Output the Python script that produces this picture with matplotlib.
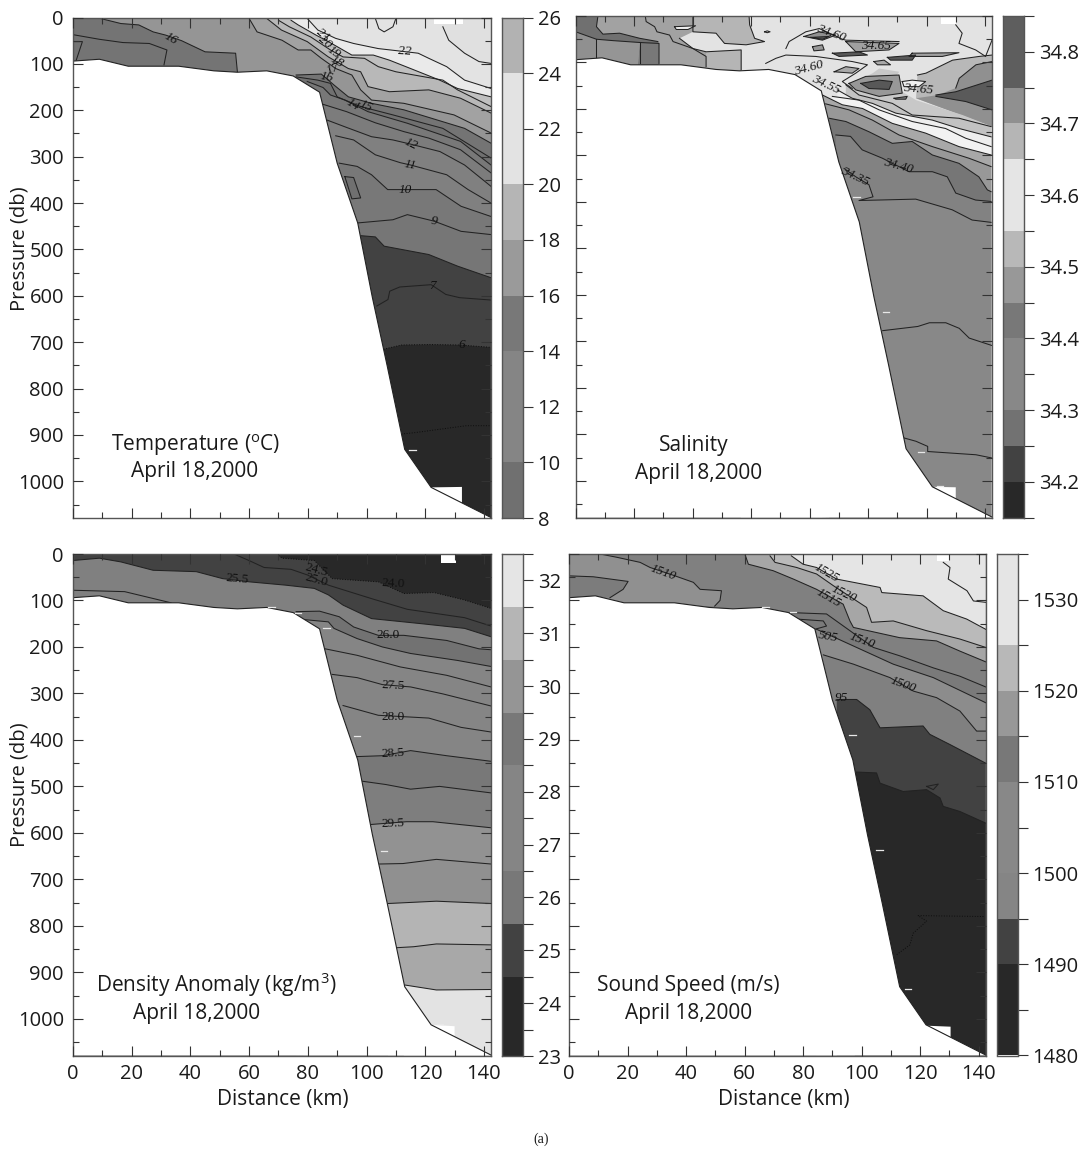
import numpy as np
import matplotlib
matplotlib.use('Agg')
import matplotlib.pyplot as plt

plt.rcParams['font.family'] = ['Open Sans', 'DejaVu Sans']
plt.rcParams['mathtext.fontset'] = 'custom'
plt.rcParams['mathtext.rm'] = 'Open Sans'
plt.rcParams['mathtext.default'] = 'rm'

W, H = 1084, 1150
XMAX = 142.4
PMAX = 1079

# bottom profile, (distance km, pressure db)
seabed = [(0, 94), (9, 90), (18.8, 105), (36, 105), (48, 115), (56, 118), (66, 115), (75, 126), (84, 161),
          (90, 314), (97, 443), (102, 604), (107, 750), (113, 931), (122, 1013), (142.4, 1078)]

# temperature contours
t_a = [(126, 20), (128, 49), (133.4, 77), (138.3, 95), (142.4, 99)]
t_22 = [(79.8, 2), (83.4, 27), (89.5, 45), (95.6, 56), (104, 67), (110.9, 72), (117.6, 77), (121.2, 88), (127.3, 106), (133.4, 135), (142.4, 153)]
t_21 = [(74.3, 6), (76.7, 16), (82.8, 38), (87, 52), (95, 81), (102.3, 81), (107.8, 92), (115, 110), (124.9, 135), (131, 153), (142.4, 171)]
t_20 = [(70, 6), (73.7, 20), (81, 42), (87.7, 70), (92, 85), (99.3, 88), (104, 106), (110, 117), (126, 135), (131, 156), (142.4, 192)]
t_19 = [(66, 2), (71, 27), (79.8, 52), (87, 85), (93.8, 110), (98, 117), (100.5, 149), (107.8, 160), (121.2, 156), (132, 174), (142.4, 206)]
t_18 = [(60, 2), (62.7, 31), (71.2, 49), (76.7, 70), (81, 70), (84.6, 88), (89.5, 110), (95, 124), (98, 156), (101.7, 178), (112.7, 185), (129.8, 210), (142.4, 249)]
t_17 = [(76, 124), (84.6, 122), (89, 146), (93.8, 171), (101.7, 185), (112.7, 199), (133.4, 239), (142.4, 271)]
t_16 = [(76, 128), (83.4, 135), (87.7, 142), (90, 171), (98, 192), (109, 210), (126, 239), (142.4, 303)]
t_15 = [(79.8, 138), (85.2, 151), (87.7, 167), (92.6, 178), (100.5, 203), (113.9, 228), (132, 267), (142.4, 318)]
t_13 = [(84.6, 186), (93.2, 203), (103, 227), (112.7, 246), (121.2, 260), (132, 285), (142.4, 335)]
t_12 = [(86.5, 221), (93.2, 237), (101.7, 257), (109, 264), (115, 273), (125, 289), (133.4, 318), (142.4, 364)]
t_11 = [(89.5, 255), (95.6, 264), (103, 296), (111.5, 313), (115, 318), (127.3, 339), (134.6, 371), (142.4, 400)]
t_10 = [(90.7, 314), (96.8, 321), (101.7, 339), (107.2, 371), (113.3, 371), (123.7, 371), (132.2, 407), (142.4, 429)]
t_10b = [(92.6, 343), (95.6, 345), (98, 389), (95, 391)]
t_9 = [(96.8, 443), (109, 436), (113.9, 425), (123, 439), (132.2, 461), (142.4, 468)]
t_8 = [(97.4, 470), (103, 473), (106, 493), (121.2, 511), (131, 536), (142.4, 561)]
t_7 = [(103.5, 622), (107.3, 608), (107.9, 590), (111.3, 581), (122, 576), (127, 597), (131.7, 604), (142.2, 609)]
t_6 = [(105.8, 715), (112, 706), (121.5, 705), (131.7, 706), (142.2, 711)]
t_5 = [(111.9, 898), (116.4, 895), (134, 880), (142.2, 880)]
t_left = [(8, 0), (16.3, 13), (22.4, 16), (27.3, 31), (31.6, 38), (37, 50), (45, 74), (55.4, 77), (56, 117)]
t_left2 = [(0, 37), (9, 47), (17, 54), (26, 56), (32, 70), (31, 102)]
t_left3 = [(0, 52), (3.2, 52), (1.1, 92)]
t_loop = [(103, 2), (104.2, 24), (106, 31), (109, 20), (110, 2)]

# salinity contours
s_40 = [(89, 256), (94, 259), (98, 288), (104.9, 306), (114, 335), (122, 335), (127.1, 346), (130, 381), (136.8, 396), (142.1, 399)]
s_35 = [(91.8, 328), (95.8, 346), (100.3, 363), (101.7, 389), (96.9, 397), (116.3, 394), (128.8, 417), (135.6, 439), (142.1, 444)]
s_34 = [(105, 677), (117, 668), (121, 660), (126.6, 660), (131.2, 672), (134.6, 693), (142.4, 709)]
s_33 = [(112.4, 908), (116.4, 915), (120.4, 926), (120.4, 937), (136.9, 944), (142.4, 951)]
s_45 = [(86.7, 220), (92.4, 227), (100.3, 249), (108.3, 274), (115.1, 270), (122, 299), (131.1, 317), (137.9, 346), (140.8, 374), (142.1, 378)]
s_50 = [(85.5, 189), (93.5, 202), (101.5, 224), (110.6, 256), (122, 281), (134.5, 306), (142.1, 324)]
s_55 = [(84.4, 170), (91.2, 191), (98.1, 199), (108.3, 231), (119.7, 252), (131.1, 281), (142.1, 299)]
s_60a = [(87.8, 173), (96.9, 181), (103.8, 202), (115.1, 227), (126.5, 242), (133.4, 263), (142.1, 281)]
s_60b = [(89.5, 159), (94.6, 177), (101.5, 188), (109.5, 209), (122, 224), (131.1, 242), (142.1, 260)]
s_60c = [(92.4, 148), (96.9, 170), (108.3, 188), (115.1, 213), (131.1, 220), (142.1, 238)]
s_light = [(59.3, 0), (59.5, 19), (61.2, 48), (64.6, 55), (58.3, 62), (56.6, 73), (56.6, 116)]
s_lobe = [(94.7, 145), (101.6, 123), (103.8, 113), (110.7, 120), (108.4, 138), (110.7, 159), (116.4, 181), (132.3, 213),
          (142.4, 238), (115.1, 213), (108.3, 188), (96.9, 170), (92.4, 148)]
s_right1 = [(116.9, 127), (119.8, 123), (128.9, 95), (138, 87), (142.4, 84), (142.4, 238), (116.4, 177)]
s_right2 = [(130, 155), (131.2, 134), (136.9, 105), (142.4, 98), (142.4, 238), (116.4, 177), (124, 170)]
s_right3 = [(123.2, 170), (130, 163), (142.4, 138), (142.4, 202), (133.4, 184), (123.2, 173)]
s_shelf1 = [(40.1, 0), (59.3, 0), (59.5, 19), (61.2, 48), (64.6, 55), (58.3, 62), (50.9, 59), (48, 37), (40.1, 34)]
s_shelf2 = [(44.6, 77), (56.6, 73), (56.6, 116), (44.6, 116)]
s_shelf3 = [(21.9, 57), (28.5, 59), (28.5, 110), (21.2, 110)]
s_shelf4 = [(7.1, 50), (21.9, 57), (21.2, 110), (7.1, 100)]
s_shelf5 = [(0, 34), (7.1, 50), (7.1, 100), (0, 100)]
s_corner = [(0, 0), (7.6, 0), (7.1, 23), (9.3, 39), (15, 37), (21.9, 48), (28.1, 55), (28.5, 59), (21.9, 57), (12.8, 53), (7.1, 50), (0, 34)]
s_white1 = [(35.5, 48), (40.1, 34), (48, 37), (50.9, 59), (58.3, 62), (64.6, 55), (70, 70), (56.6, 73), (44.6, 77), (40.1, 70)]
s_white2 = [(33.8, 23), (41, 21), (38.4, 29), (34.4, 29)]
s_white3 = [(64.6, 34), (65.5, 32), (66.5, 34), (65.5, 36)]
s_ring = [(93.5, 145), (99.2, 130), (110.6, 127), (111.7, 166), (103.8, 173), (95.8, 159)]
s_core = [(97.5, 145), (103.8, 138), (108.3, 141), (107.2, 158), (100.3, 156)]
s_patch1 = [(88.4, 120), (92.4, 109), (96.9, 113), (94.6, 123)]
s_patch2 = [(81, 66), (84.4, 62), (85, 73), (81.5, 75)]
s_patch3 = [(78.1, 44), (83.3, 34), (89, 41), (84.4, 52)]
s_patch4 = [(80.4, 46), (86.7, 44), (84.4, 50)]
s_patch5 = [(111.7, 141), (115.1, 138), (119.7, 141), (117.4, 152), (112.3, 152)]
s_patch6 = [(92.4, 55), (110.6, 59), (107.2, 73), (95.8, 77)]
s_patch7 = [(87.8, 80), (96.9, 77), (99.8, 84), (90.1, 87)]
s_patch8 = [(106.6, 89), (116.3, 84), (115.1, 95), (107.7, 95)]
s_patch9 = [(115.1, 80), (131.1, 79), (125.4, 87), (114, 87)]
s_patch10 = [(102, 98), (105.5, 95), (107.7, 105), (103.2, 105)]
s_patch11 = [(108.9, 177), (113.4, 173), (112.9, 179), (109.5, 179)]
s_wig1 = [(71.9, 70), (73, 55), (78.7, 34), (83.3, 27), (91.2, 50), (92.4, 52), (110.6, 55)]
s_wig2 = [(65, 102), (68.5, 91), (71.9, 84), (82.1, 87), (94.6, 98), (99.8, 105), (95.8, 123), (91.2, 141), (94.6, 156)]
s_wig3 = [(130, 19), (132.2, 37), (131.1, 59), (136.8, 73), (140.2, 87), (142.4, 52)]
s_wig4 = [(23.8, 0), (24.1, 12), (27, 23), (27.8, 34), (32.1, 41), (33.3, 55), (40.1, 70), (44.6, 87), (44.6, 109)]
s_wig5 = [(0, 34), (7.1, 50), (12.8, 53), (21.9, 57), (28.5, 59), (28.5, 102)]
s_wig6 = [(7.6, 0), (7.1, 23), (9.3, 39), (15, 37), (21.9, 48), (28.1, 55)]
s_wig7 = [(7.1, 50), (7.1, 96)]
s_wig8 = [(21.9, 57), (21.9, 102)]
s_wig9 = [(40.1, 0), (40.1, 34), (48, 37), (50.9, 59), (58.3, 62), (64.6, 55), (61.2, 48), (59.5, 19), (59.3, 0)]
s_wig10 = [(35.5, 48), (40.1, 70), (44.6, 77), (56.6, 73), (56.6, 116)]

# density contours
d_24 = [(69.4, 0), (71.2, 9), (82.2, 14), (88.3, 53), (104.1, 60), (112.7, 85), (123, 83), (133.4, 99), (142.4, 117)]
d_25 = [(54.8, 0), (59.6, 13), (65.1, 29), (74.3, 33), (79.8, 45), (87, 67), (101.7, 96), (113.9, 119), (133.4, 137), (142.4, 155)]
d_255 = [(0, 14), (9, 9), (16.3, 17), (27.3, 35), (42, 38), (51, 53), (60.2, 60), (72.4, 67), (82.2, 74), (87, 88), (92, 110), (101.7, 139), (118.8, 150), (133.4, 160), (142.4, 178)]
d_shelf = [(0, 78), (17.6, 81), (33.4, 105)]
d_26 = [(76, 124), (84, 123), (90.7, 135), (95.6, 157), (104, 175), (112.7, 175), (127.3, 186), (138.3, 204), (142.4, 206)]
d_265 = [(78.5, 141), (87, 146), (88.9, 160), (96.8, 182), (105.4, 200), (115, 214), (131, 229), (142.4, 242)]
d_27 = [(85.9, 204), (96.8, 218), (111.5, 243), (127.3, 261), (142.4, 286)]
d_275 = [(88.3, 259), (96.8, 266), (105.4, 281), (115, 286), (126, 301), (142.4, 327)]
d_28 = [(92, 326), (104, 347), (121.2, 353), (132.2, 373), (142.4, 383)]
d_285 = [(96.2, 436), (105.4, 434), (115, 423), (127.3, 434), (142.4, 446)]
d_29 = [(98.7, 489), (106.6, 496), (115, 506), (124.9, 500), (142.4, 514)]
d_295 = [(101.4, 582), (113.6, 576), (122.6, 576), (142.4, 589)]
d_30 = [(104.5, 667), (112.4, 666), (123.8, 657), (142.4, 667)]
d_305 = [(107.3, 752), (123.8, 747), (142.4, 752)]
d_31 = [(110.4, 847), (116, 845), (123.8, 839), (142.4, 841)]
d_315 = [(112.7, 927), (123.8, 938), (142.4, 937)]

# sound speed contours
c_1530 = [(127.9, 18), (130.2, 29), (129.6, 54), (136, 79), (138.2, 101), (142.4, 104)]
c_1525 = [(76, 4), (80, 22), (84.6, 29), (91.5, 54), (106.3, 72), (106.9, 83), (121, 90), (127.9, 122), (135.9, 140), (142.4, 162)]
c_1520 = [(68.7, 4), (70.4, 18), (77.8, 29), (84.6, 43), (90.3, 68), (98.3, 101), (101.7, 115), (103.4, 147), (110.8, 144), (122.2, 165), (133.6, 183), (142.4, 201)]
c_1515 = [(60.1, 0), (61.3, 22), (69.8, 36), (76.7, 54), (84.6, 76), (93.7, 108), (96, 144), (97.2, 158), (113, 180), (125.6, 187), (133.6, 209), (142.4, 232)]
c_1510 = [(75.5, 126), (88, 129), (96, 165), (104, 201), (113, 219), (124.5, 245), (133.6, 263), (142.4, 286)]
c_1505 = [(84.6, 162), (92, 183), (110.8, 237), (124.5, 266), (142.4, 320)]
c_1500 = [(86.9, 217), (97.2, 237), (109.7, 266), (117.7, 295), (125.6, 309), (133.6, 338), (139.3, 381), (142.4, 381)]
c_1495 = [(91.5, 313), (98.3, 313), (102.8, 335), (106.3, 374), (121, 370), (123.3, 388), (130.2, 410), (142.4, 450)]
c_1490 = [(97.7, 469), (105.1, 471), (106.3, 493), (114.2, 511), (122.2, 507), (126.8, 525), (127.9, 543), (133.6, 554), (142.4, 579)]
c_1485 = [(112, 862), (116.5, 841), (117.6, 816), (122.2, 790), (119.3, 778), (142.1, 780)]
c_bump = [(122.2, 500), (126.2, 495), (124.5, 507)]
c_left = [(10.6, 0), (16.3, 7), (24.3, 18), (27.7, 29), (36.2, 47), (42.5, 61), (44.8, 76), (52.1, 79), (51.6, 100), (49.8, 112)]
c_patch = [(0, 47), (8.3, 49), (20.2, 59), (18.5, 76), (14, 94), (0, 94)]
c_loop = [(77.8, 140), (86.9, 144), (88, 155), (84, 162)]

# top white gaps and bottom white gaps of each section (distance, pressure)
gap_top_t = [(123, 2), (133, 2), (133, 14), (123, 14)]
gap_top_s = [(125, 3), (130, 3), (130, 17), (125, 17)]
gap_top_d = [(125.5, 2), (130.4, 2), (130.4, 19), (125.5, 19)]
gap_top_c = [(125.6, 1), (130.2, 1), (130.2, 16), (125.6, 16)]
gap_bot_t = [(122, 1013), (132.5, 1012), (132.5, 1049)]
gap_bot_s = [(122.5, 1013), (130, 1014), (130, 1040)]
gap_bot_d = [(122, 1013), (130, 1016), (130, 1040)]
gap_bot_c = [(122.6, 1015), (130.4, 1017), (130.4, 1040)]

# small white dashes along the slope
t_dash = [(114.5, 933)]
s_dash = [(95, 390), (105, 636), (117, 938), (123.5, 1012)]
d_dash = [(85.2, 160), (95.6, 391), (104.8, 638), (66.5, 113), (75.5, 126), (124, 1012)]
c_dash = [(95.8, 390), (105, 636), (114.8, 935), (66, 113), (75.5, 125)]

# colour bars, band edges and grey of each band
t_edges = [8, 10, 14, 16, 18, 20, 24, 26]
t_greys = [0x70, 0x85, 0x78, 0x9a, 0xb5, 0xe3, 0xb2]
t_ticks = [8, 10, 12, 14, 16, 18, 20, 22, 24, 26]
s_edges = [34.15, 34.20, 34.25, 34.30, 34.40, 34.45, 34.50, 34.55, 34.65, 34.70, 34.75, 34.85]
s_greys = [0x28, 0x42, 0x72, 0x88, 0x78, 0x98, 0xb8, 0xe5, 0xb5, 0x90, 0x5e]
s_ticks = [34.2, 34.3, 34.4, 34.5, 34.6, 34.7, 34.8]
s_minor = [34.15, 34.25, 34.35, 34.45, 34.55, 34.65, 34.75, 34.85]
d_edges = [23, 24.5, 25.5, 26.5, 28.5, 29.5, 30.5, 31.5, 32.5]
d_greys = [0x28, 0x42, 0x78, 0x85, 0x78, 0x95, 0xb5, 0xe5]
d_ticks = [23, 24, 25, 26, 27, 28, 29, 30, 31, 32]
d_minor = [23.5, 24.5, 25.5, 26.5, 27.5, 28.5, 29.5, 30.5, 31.5, 32.5]
c_edges = [1480, 1490, 1495, 1500, 1510, 1515, 1520, 1525, 1535]
c_greys = [0x28, 0x42, 0x85, 0x88, 0x78, 0x98, 0xb8, 0xe5]
c_ticks = [1480, 1490, 1500, 1510, 1520, 1530]
c_minor = [1485, 1495, 1505, 1515, 1525, 1535]

# contour labels
t_lab = ['22', '21', '20', '19', '18', '17', '16', '14', '15', '12', '11', '10', '9', '7', '6', '16']
t_lab_x = [113, 85.2, 85.9, 88.9, 89.8, 88.5, 86.5, 95.4, 99.9, 115, 115, 113.3, 123, 122.4, 132.4, 33.4]
t_lab_p = [74, 37, 52, 76, 95, 110, 128, 189, 191, 273, 318, 371, 439, 579, 706, 45]
t_lab_r = [-3, -40, -40, -35, -30, 20, -10, -30, -25, -25, -10, 0, -5, 0, 0, -30]
s_lab = ['34.60', '34.65', '34.60', '34.55', '34.65', '34.40', '34.35']
s_lab_x = [87.2, 102.6, 79.8, 85.5, 117.2, 110.4, 95.6]
s_lab_p = [37, 65, 113, 148, 158, 323, 346]
s_lab_r = [-20, 0, 15, -25, -5, -15, -25]
d_lab = ['25.5', '24.5', '25.0', '24.0', '26.0', '27.5', '28.0', '28.5', '29.5']
d_lab_x = [56, 82.8, 82.8, 109, 107.2, 109, 109, 109, 108.8]
d_lab_p = [54, 35, 56, 63, 175, 284, 351, 428, 580]
d_lab_r = [-5, -15, -15, -3, 0, -3, 0, 3, 2]
c_lab = ['1510', '1525', '1520', '1515', '505', '1510', '1500', '95']
c_lab_x = [32, 88, 93.9, 88.6, 88.4, 100, 114, 92.9]
c_lab_p = [41, 41, 86, 94, 178, 186, 282, 309]
c_lab_r = [-20, -30, -25, -30, -10, -20, -20, 0]


def grey(v):
    return '#%02x%02x%02x' % (v, v, v)


def xy(line):
    a = np.array(line, dtype=float)
    return a[:, 0], a[:, 1]


def new_axes(fig, left, top, right, bottom):
    return fig.add_axes([left / W, 1 - bottom / H, (right - left) / W, (bottom - top) / H])


def shade(ax, line, v, side='below'):
    # paint everything under or over a contour, later layers cover it
    x, p = xy(line)
    end = PMAX if side == 'below' else 0
    ax.fill(np.r_[x, x[-1], x[0]], np.r_[p, end, end], color=grey(v), lw=0, zorder=0.5)


def patch(ax, line, v, outline=True):
    x, p = xy(line)
    ax.fill(x, p, color=grey(v), lw=0, zorder=0.5)
    if outline:
        ax.plot(np.r_[x, x[0]], np.r_[p, p[0]], color='#222222', lw=0.75, zorder=1)


def draw_lines(ax, lines):
    for line in lines:
        x, p = xy(line)
        ax.plot(x, p, color='#222222', lw=0.75, zorder=1)


def dotted(ax, line):
    x, p = xy(line)
    ax.plot(x, p, color='#0d0d0d', lw=0.7, ls=':', zorder=1)


def finish(ax, gaps, dashes, labels, lab_x, lab_p, lab_r, left_labels, bottom_labels, italic=True):
    x, p = xy(seabed)
    ax.fill(np.r_[x, XMAX, 0], np.r_[p, PMAX, PMAX], color='white', lw=0, zorder=1.5)
    for g in gaps:
        gx, gp = xy(g)
        ax.fill(gx, gp, color='white', lw=0, zorder=1.5)
    ax.plot(x, p, color='#222222', lw=0.8, zorder=1.8)
    for dx, dp in dashes:
        ax.plot([dx, dx + 2.2], [dp, dp], color='#e8e8e8', lw=0.9, zorder=1.9)
    for s, tx, tp, r in zip(labels, lab_x, lab_p, lab_r):
        ax.text(tx, tp, s, rotation=r, ha='center', va='center', fontsize=9.5, color='#111111',
                family='Liberation Serif', style='italic' if italic else 'normal', zorder=5)
    ax.set_xlim(0, XMAX)
    ax.set_ylim(PMAX, 0)
    ax.set_xticks(np.arange(0, 141, 20))
    ax.set_xticks(np.arange(10, 141, 20), minor=True)
    ax.set_yticks(np.arange(0, 1001, 100))
    ax.set_yticks(np.arange(50, 1051, 100), minor=True)
    ax.tick_params(which='major', direction='in', length=7.5, width=0.8, top=True, right=True,
                   labelsize=14.5, pad=6, color='#333333', labelcolor='#1a1a1a',
                   labelleft=left_labels, labelbottom=bottom_labels)
    ax.tick_params(which='minor', direction='in', length=4, width=0.8, top=True, right=True, color='#333333')
    ax.tick_params(axis='y', which='major', pad=6.5)
    for s in ax.spines.values():
        s.set_color('#555555')
        s.set_linewidth(1.0)
    ax.set_axisbelow(False)


def colorbar(fig, left, top, right, bottom, edges, greys, ticks, minor, fmt):
    cax = new_axes(fig, left, top, right, bottom)
    cax.pcolormesh([0, 1], edges, np.array(greys)[:, None], cmap='gray', vmin=0, vmax=255)
    cax.set_ylim(edges[0], edges[-1])
    cax.set_xticks([])
    cax.yaxis.tick_right()
    cax.set_yticks(ticks)
    cax.set_yticklabels([fmt % t for t in ticks])
    cax.set_yticks(minor, minor=True)
    cax.tick_params(which='both', direction='out', length=7.5, width=0.8, color='#333333')
    cax.tick_params(which='major', labelsize=14.5, pad=3, labelcolor='#1a1a1a')
    for s in cax.spines.values():
        s.set_color('#555555')
        s.set_linewidth(1.0)


fig = plt.figure(figsize=(W / 100, H / 100), dpi=100, facecolor='white')

# Temperature
ax = new_axes(fig, 73, 17.5, 491, 518)
ax.set_facecolor(grey(0x95))
x0, p0 = xy(t_left)
ax.fill(np.r_[x0, 56, 0, 0], np.r_[p0, PMAX, PMAX, 0], color=grey(0x74), lw=0, zorder=0.5)
for line, v in [(t_18, 0xa2), (t_19, 0xb8), (t_20, 0xc0), (t_21, 0xea), (t_22, 0xe3), (t_a, 0xe0)]:
    shade(ax, line, v, 'above')
for line, v in [(t_17, 0x74), (t_16, 0x70), (t_15, 0x78), (t_13, 0x7c), (t_12, 0x80), (t_11, 0x80),
                (t_10, 0x78), (t_9, 0x76), (t_8, 0x42), (t_6, 0x28)]:
    shade(ax, line, v)
patch(ax, t_10b, 0x70)
draw_lines(ax, [t_a, t_22, t_21, t_20, t_19, t_18, t_17, t_16, t_15, t_13, t_12, t_11, t_10, t_9, t_8, t_7,
                t_left, t_left2, t_left3, t_loop])
dotted(ax, t_6)
dotted(ax, t_5)
finish(ax, [gap_top_t, gap_bot_t], t_dash, t_lab, t_lab_x, t_lab_p, t_lab_r, True, False)
colorbar(fig, 502, 17.5, 523, 518, t_edges, t_greys, t_ticks, [], '%d')

# Salinity
ax = new_axes(fig, 575.7, 16, 992, 517.5)
ax.set_facecolor(grey(0xa2))
x0, p0 = xy(s_light)
ax.fill(np.r_[x0, 56.5, XMAX, XMAX], np.r_[p0, PMAX, PMAX, 0], color=grey(0xe3), lw=0, zorder=0.5)
for line, v in [(s_shelf1, 0xb5), (s_shelf2, 0xb5), (s_shelf3, 0x78), (s_shelf4, 0x95), (s_shelf5, 0x90),
                (s_corner, 0x70), (s_white1, 0xe3), (s_right1, 0xb8), (s_right2, 0x90), (s_right3, 0x5a), (s_lobe, 0xc8)]:
    patch(ax, line, v, False)
for line, v in [(s_white2, 0xf0), (s_white3, 0xf0), (s_ring, 0x98), (s_patch5, 0xf0), (s_patch1, 0xa8),
                (s_patch2, 0x98), (s_patch3, 0x90), (s_patch6, 0xa0), (s_patch9, 0xa0), (s_patch10, 0xa8),
                (s_patch11, 0x80), (s_core, 0x58), (s_patch4, 0x58), (s_patch7, 0x58), (s_patch8, 0x58)]:
    patch(ax, line, v)
for line, v in [(s_60c, 0xc2), (s_60b, 0xee), (s_60a, 0xf2), (s_55, 0xa8), (s_50, 0x98), (s_45, 0x76), (s_40, 0x82), (s_35, 0x88)]:
    shade(ax, line, v)
draw_lines(ax, [s_60c, s_60b, s_60a, s_55, s_50, s_45, s_40, s_35, s_34, s_33,
                s_wig1, s_wig2, s_wig3, s_wig4, s_wig5, s_wig6, s_wig7, s_wig8, s_wig9, s_wig10,
                s_right1[:5], s_right2[:4], s_right3[:3], s_right3[3:]])
finish(ax, [gap_top_s, gap_bot_s], s_dash, s_lab, s_lab_x, s_lab_p, s_lab_r, False, False)
colorbar(fig, 1003, 16, 1024, 517.5, s_edges, s_greys, s_ticks, s_minor, '%.1f')

# Density anomaly
ax = new_axes(fig, 73, 554, 491, 1055.5)
ax.set_facecolor(grey(0x42))
shade(ax, d_24, 0x28, 'above')
for line, v in [(d_255, 0x80), (d_26, 0x72), (d_265, 0x85), (d_285, 0x78), (d_29, 0x7e), (d_295, 0x92), (d_30, 0x90),
                (d_305, 0xb4), (d_31, 0xa8), (d_315, 0xe3)]:
    shade(ax, line, v)
draw_lines(ax, [d_25, d_255, d_shelf, d_26, d_265, d_27, d_275, d_28, d_285, d_29, d_295, d_30, d_305, d_31, d_315])
dotted(ax, d_24)
finish(ax, [gap_top_d, gap_bot_d], d_dash, d_lab, d_lab_x, d_lab_p, d_lab_r, True, True, italic=False)
colorbar(fig, 502, 554, 523, 1056, d_edges, d_greys, d_ticks, d_minor, '%d')

# Sound speed
ax = new_axes(fig, 569, 554, 985.7, 1055.5)
ax.set_facecolor(grey(0x80))
x0, p0 = xy(c_left)
ax.fill(np.r_[x0, 0, 0], np.r_[p0, 112, 0], color=grey(0x90), lw=0, zorder=0.5)
patch(ax, c_patch, 0x7c, False)
for line, v in [(c_1515, 0xa6), (c_1520, 0xba), (c_1525, 0xe5)]:
    shade(ax, line, v, 'above')
for line, v in [(c_1510, 0x7a), (c_1505, 0x8c), (c_1500, 0x80), (c_1495, 0x42), (c_1490, 0x28)]:
    shade(ax, line, v)
patch(ax, c_bump, 0x42)
draw_lines(ax, [c_1530, c_1525, c_1520, c_1515, c_1510, c_1505, c_1500, c_1495, c_1490, c_left, c_patch[:5], c_loop])
dotted(ax, c_1485)
finish(ax, [gap_top_c, gap_bot_c], c_dash, c_lab, c_lab_x, c_lab_p, c_lab_r, False, True)
colorbar(fig, 997, 554, 1018, 1055.5, c_edges, c_greys, c_ticks, c_minor, '%d')


def put(px, py, s, size=15, **kw):
    fig.text(px / W, 1 - py / H, s, fontsize=size, ha='center', va='center', color='#1a1a1a', **kw)


put(196, 445, r'Temperature ($^{o}$C)')
put(195, 472, 'April 18,2000')
put(694, 446, 'Salinity')
put(699, 473, 'April 18,2000')
put(216, 985, r'Density Anomaly (kg/m$^{3}$)')
put(197, 1013, 'April 18,2000')
put(688, 985, 'Sound Speed (m/s)')
put(689, 1013, 'April 18,2000')
put(20, 249, 'Pressure (db)', size=14.5, rotation=90)
put(20, 785, 'Pressure (db)', size=14.5, rotation=90)
put(283, 1100, 'Distance (km)')
put(784, 1100, 'Distance (km)')
put(541, 1139, '(a)', size=10, family='Liberation Serif')

fig.savefig('out.png', dpi=100)
